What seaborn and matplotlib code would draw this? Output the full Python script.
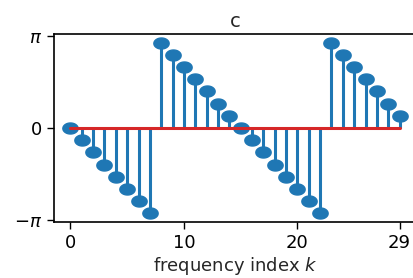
import matplotlib
matplotlib.use("Agg")
import matplotlib.pyplot as plt
import seaborn as sns
import numpy as np
from matplotlib.path import Path

# phase values (radians), k = 0..29
k = list(range(30))
phase = [0.0, -0.419, -0.838, -1.257, -1.676, -2.094, -2.513, -2.932,
         2.932, 2.513, 2.094, 1.676, 1.257, 0.838, 0.419,
         0.0, -0.419, -0.838, -1.257, -1.676, -2.094, -2.513, -2.932,
         2.932, 2.513, 2.094, 1.676, 1.257, 0.838, 0.419]
xticks = [0, 10, 20, 29]
yticks = [-np.pi, 0, np.pi]
yticklabels = [r"$-\pi$", "0", r"$\pi$"]

sns.set_style("ticks")
plt.rcParams["font.family"] = ["DejaVu Sans"]

# ellipse marker (a bit wider than tall)
t = np.linspace(0, 2 * np.pi, 60)
ellipse = Path(np.column_stack([np.cos(t), 0.72 * np.sin(t)]), closed=True)

fig = plt.figure(figsize=(4.14, 2.78), dpi=100)
ax = fig.add_axes([54 / 414, 1 - 222 / 278, 362 / 414, 188 / 278])

markerline, stemlines, baseline = ax.stem(k, phase, linefmt="C0-", markerfmt="C0o", basefmt="C3-")
markerline.set_marker(ellipse)
markerline.set_markersize(11)
stemlines.set_linewidth(2.2)
baseline.set_linewidth(2.2)

ax.set_xticks(xticks)
ax.set_yticks(yticks)
ax.set_yticklabels(yticklabels)
ax.tick_params(labelsize=13, length=5, width=1, colors="black")
for s in ax.spines.values():
    s.set_color("black")
    s.set_linewidth(1.2)

ax.set_title("c", fontsize=14, pad=5)
ax.set_xlabel("frequency index $k$", fontsize=13, labelpad=2)

fig.savefig("out.png", dpi=100)
